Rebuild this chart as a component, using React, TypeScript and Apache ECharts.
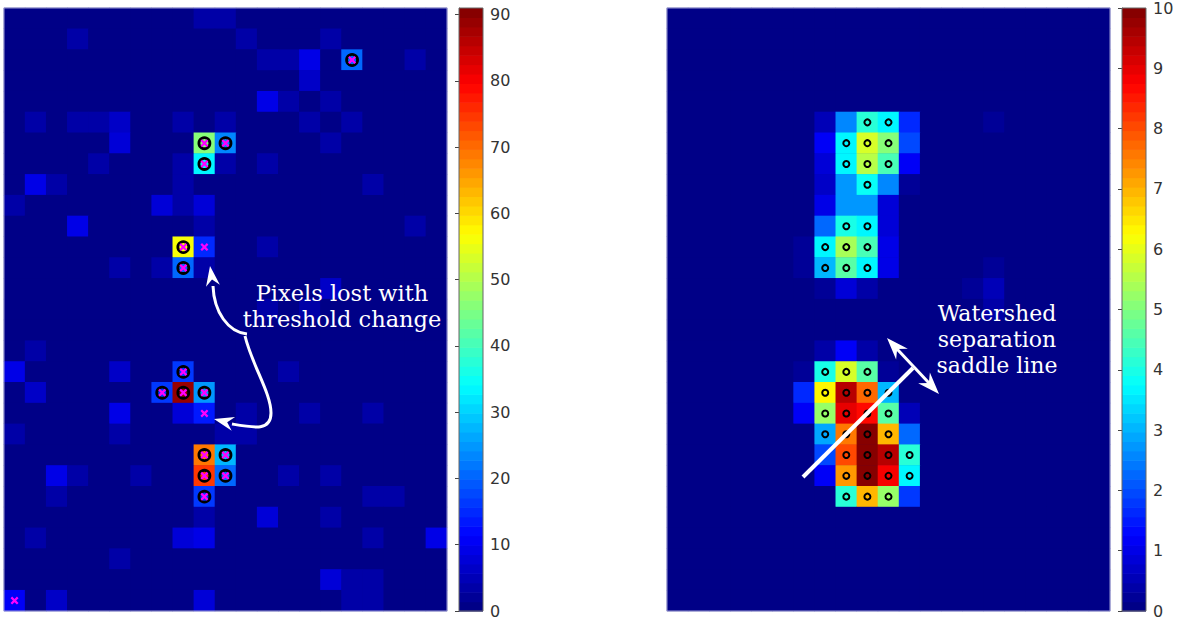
import React, { useEffect, useRef } from "react";
import * as echarts from "echarts";

// ---------- grid size (pixels of the images) ----------
const COLS = 21;
const ROWS = 29;
const colCats = Array.from({ length: COLS }, (_, i) => String(i));
const rowCats = Array.from({ length: ROWS }, (_, i) => String(i));

// ---------- left image: raw intensities [col, row, value]; all others are 0 ----------
const leftCells: [number, number, number][] = [
  [9, 0, 3], [10, 0, 3],
  [3, 1, 3], [11, 1, 3], [15, 1, 3],
  [12, 2, 4], [13, 2, 3], [14, 2, 9], [16, 2, 21], [19, 2, 3],
  [14, 3, 7],
  [12, 4, 9], [13, 4, 3], [14, 4, 1], [15, 4, 4],
  [1, 5, 3], [3, 5, 3], [4, 5, 3], [5, 5, 7], [8, 5, 3], [10, 5, 4], [14, 5, 3], [15, 5, 1], [16, 5, 3],
  [5, 6, 8], [9, 6, 46], [10, 6, 24], [15, 6, 3],
  [4, 7, 3], [8, 7, 3], [9, 7, 34], [10, 7, 4], [12, 7, 3],
  [1, 8, 9], [2, 8, 4], [8, 8, 3], [17, 8, 3],
  [0, 9, 3], [7, 9, 8], [8, 9, 4], [9, 9, 8],
  [3, 10, 9], [9, 10, 4], [19, 10, 3],
  [8, 11, 56], [9, 11, 15], [12, 11, 3],
  [5, 12, 3], [7, 12, 3], [8, 12, 20], [9, 12, 4],
  [15, 13, 6],
  [12, 14, 3], [14, 14, 3],
  [1, 16, 3],
  [0, 17, 9], [5, 17, 6], [8, 17, 16], [13, 17, 3],
  [1, 18, 7], [7, 18, 16], [8, 18, 89], [9, 18, 25],
  [5, 19, 9], [8, 19, 8], [9, 19, 14], [11, 19, 3], [14, 19, 3], [17, 19, 3],
  [0, 20, 3], [5, 20, 3], [10, 20, 3], [11, 20, 3],
  [9, 21, 69], [10, 21, 28],
  [2, 22, 9], [3, 22, 4], [6, 22, 4], [9, 22, 75], [10, 22, 21], [13, 22, 4], [15, 22, 4],
  [2, 23, 4], [9, 23, 16], [17, 23, 4], [18, 23, 4],
  [9, 24, 3], [12, 24, 8], [15, 24, 4],
  [1, 25, 3], [8, 25, 8], [9, 25, 9], [17, 25, 4], [20, 25, 9],
  [5, 26, 4],
  [15, 27, 8], [16, 27, 4], [17, 27, 4],
  [0, 28, 11], [2, 28, 7], [9, 28, 8], [16, 28, 4], [17, 28, 4],
];
// pixels kept after thresholding (circle + cross)
const leftKept: [number, number][] = [
  [16, 2], [9, 6], [10, 6], [9, 7], [8, 11], [8, 12], [8, 17], [7, 18], [8, 18], [9, 18],
  [9, 21], [10, 21], [9, 22], [10, 22], [9, 23],
];
// pixels lost with the threshold change (cross only)
const leftLost: [number, number][] = [[9, 11], [9, 19], [0, 28]];
const leftCrosses: [number, number][] = [...leftKept, ...leftLost];

// ---------- right image: smoothed intensities [col, row, value]; all others are 0 ----------
const rightCells: [number, number, number][] = [
  [7, 5, 0.5], [8, 5, 2.5], [9, 5, 4.2], [10, 5, 3.6], [11, 5, 1.7], [12, 5, 0.1], [15, 5, 0.3],
  [7, 6, 1.2], [8, 6, 3.7], [9, 6, 5.9], [10, 6, 5.0], [11, 6, 2.0],
  [7, 7, 0.9], [8, 7, 3.7], [9, 7, 5.6], [10, 7, 4.4], [11, 7, 1.2],
  [7, 8, 0.7], [8, 8, 2.8], [9, 8, 3.75], [10, 8, 2.5], [11, 8, 0.2],
  [7, 9, 1.0], [8, 9, 2.7], [9, 9, 2.7], [10, 9, 0.8],
  [7, 10, 2.3], [8, 10, 4.0], [9, 10, 3.7], [10, 10, 0.8],
  [6, 11, 0.3], [7, 11, 3.6], [8, 11, 5.4], [9, 11, 4.4], [10, 11, 1.0],
  [6, 12, 0.3], [7, 12, 3.0], [8, 12, 4.6], [9, 12, 3.7], [10, 12, 1.0], [15, 12, 0.3],
  [7, 13, 0.2], [8, 13, 0.9], [9, 13, 0.4], [14, 13, 0.3], [15, 13, 0.6],
  [15, 14, 0.4],
  [7, 16, 0.4], [8, 16, 1.1], [9, 16, 0.4],
  [6, 17, 0.3], [7, 17, 4.0], [8, 17, 5.9], [9, 17, 4.6], [10, 17, 0.3],
  [6, 18, 1.6], [7, 18, 6.4], [8, 18, 9.5], [9, 18, 7.8], [10, 18, 3.0],
  [6, 19, 1.1], [7, 19, 5.3], [8, 19, 9.0], [9, 19, 8.6], [10, 19, 4.6], [11, 19, 0.6],
  [7, 20, 2.9], [8, 20, 7.6], [9, 20, 9.85], [10, 20, 7.0], [11, 20, 2.3],
  [7, 21, 2.0], [8, 21, 8.0], [9, 21, 9.9], [10, 21, 9.4], [11, 21, 4.2],
  [7, 22, 1.1], [8, 22, 7.2], [9, 22, 9.9], [10, 22, 8.9], [11, 22, 3.7],
  [8, 23, 4.2], [9, 23, 6.9], [10, 23, 5.3], [11, 23, 1.8],
];
const rightMarked: [number, number][] = [
  [9, 5], [10, 5], [8, 6], [9, 6], [10, 6], [8, 7], [9, 7], [10, 7], [9, 8],
  [8, 10], [9, 10], [7, 11], [8, 11], [9, 11], [7, 12], [8, 12], [9, 12],
  [7, 17], [8, 17], [9, 17], [7, 18], [8, 18], [9, 18], [10, 18],
  [7, 19], [8, 19], [9, 19], [10, 19], [7, 20], [8, 20], [9, 20], [10, 20],
  [8, 21], [9, 21], [10, 21], [11, 21], [8, 22], [9, 22], [10, 22], [11, 22],
  [8, 23], [9, 23], [10, 23],
];

// ---------- colour bar scales ----------
const leftMax = 91; // colour limit of the left image (ticks stop at 90)
const leftTickStep = 10;
const rightMax = 10;
const rightTickStep = 1;
const LEVELS = 64;

function jet(f: number): string {
  const c = (x: number) => Math.max(0, Math.min(1, x));
  const r = c(1.5 - Math.abs(4 * f - 3));
  const g = c(1.5 - Math.abs(4 * f - 2));
  const b = c(1.5 - Math.abs(4 * f - 1));
  return `rgb(${Math.round(r * 255)},${Math.round(g * 255)},${Math.round(b * 255)})`;
}
const levelColor = (i: number) => jet((i + 0.5) / LEVELS);

function pieces(max: number) {
  return Array.from({ length: LEVELS }, (_, i) => {
    const p: any = { gte: (i * max) / LEVELS, color: levelColor(i) };
    if (i < LEVELS - 1) p.lt = ((i + 1) * max) / LEVELS;
    else p.lte = max * 1.01;
    return p;
  });
}

function fullGrid(cells: [number, number, number][]) {
  const m = new Map<string, number>();
  cells.forEach(([c, r, v]) => m.set(c + "," + r, v));
  const out: [number, number, number][] = [];
  for (let r = 0; r < ROWS; r++)
    for (let c = 0; c < COLS; c++) out.push([c, r, m.get(c + "," + r) ?? 0]);
  return out;
}

const levelIdx = Array.from({ length: LEVELS }, (_, i) => [i]);

function colorbarItem(max: number) {
  return (params: any, api: any) => {
    const i = api.value(0);
    const p0 = api.coord([0, (i * max) / LEVELS]);
    const p1 = api.coord([1, ((i + 1) * max) / LEVELS]);
    return {
      type: "rect",
      shape: { x: p0[0], y: p1[1], width: p1[0] - p0[0], height: p0[1] - p1[1] + 0.6 },
      style: { fill: levelColor(i) },
    };
  };
}

function arrowHead(tip: number[], dir: number[], L: number, W: number) {
  const n = Math.hypot(dir[0], dir[1]);
  const dx = dir[0] / n, dy = dir[1] / n;
  const px = -dy, py = dx;
  const bx = tip[0] - L * dx, by = tip[1] - L * dy;
  return {
    type: "polygon",
    z: 100,
    silent: true,
    shape: {
      points: [
        tip,
        [bx + W * px, by + W * py],
        [tip[0] - 0.68 * L * dx, tip[1] - 0.68 * L * dy],
        [bx - W * px, by - W * py],
      ],
    },
    style: { fill: "#ffffff" },
  };
}

const X_SYMBOL = "path://M2,0L5,3L8,0L10,2L7,5L10,8L8,10L5,7L2,10L0,8L3,5L0,2Z";

export default function App() {
  const ref = useRef<HTMLDivElement>(null);
  useEffect(() => {
    if (!ref.current) return;
    const chart = echarts.init(ref.current, undefined, { renderer: "svg" });
    const labelStyle = { color: "#333", fontSize: 16, fontFamily: "DejaVu Sans" };
    const hiddenCat = (data: string[], gridIndex: number, inverse = false) => ({
      type: "category", data, gridIndex, show: false, inverse,
    });
    const barY = (gridIndex: number, max: number, step: number) => ({
      type: "value", gridIndex, min: 0, max, interval: step, position: "right",
      axisLine: { show: true, lineStyle: { color: "#666", width: 1 } },
      axisTick: { show: true, inside: true, length: 4, lineStyle: { color: "#444" } },
      axisLabel: { ...labelStyle, margin: 7, showMaxLabel: max % step === 0 },
      splitLine: { show: false },
    });
    const barX = (gridIndex: number) => ({ type: "value", gridIndex, min: 0, max: 1, show: false });
    const bg = levelColor(0);

    const rightSaddleStart = [803, 477];
    const rightSaddleEnd = [913, 368];
    const tipA = [887, 338];
    const tipB = [939, 394];

    chart.setOption({
      animation: false,
      backgroundColor: "#ffffff",
      grid: [
        { left: 4, top: 8, width: 443, height: 603, show: true, backgroundColor: bg, borderWidth: 0 },
        { left: 667, top: 8, width: 443, height: 603, show: true, backgroundColor: bg, borderWidth: 0 },
        { left: 459, top: 8, width: 24, height: 603 },
        { left: 1122, top: 8, width: 24, height: 603 },
      ],
      xAxis: [hiddenCat(colCats, 0), hiddenCat(colCats, 1), barX(2), barX(3)],
      yAxis: [
        hiddenCat(rowCats, 0, true),
        hiddenCat(rowCats, 1, true),
        barY(2, leftMax, leftTickStep),
        barY(3, rightMax, rightTickStep),
      ],
      visualMap: [
        { type: "piecewise", show: false, seriesIndex: 0, dimension: 2, pieces: pieces(leftMax) },
        { type: "piecewise", show: false, seriesIndex: 1, dimension: 2, pieces: pieces(rightMax) },
      ],
      series: [
        { type: "heatmap", xAxisIndex: 0, yAxisIndex: 0, data: fullGrid(leftCells), silent: true, emphasis: { disabled: true } },
        { type: "heatmap", xAxisIndex: 1, yAxisIndex: 1, data: fullGrid(rightCells), silent: true, emphasis: { disabled: true } },
        { type: "custom", xAxisIndex: 2, yAxisIndex: 2, data: levelIdx, renderItem: colorbarItem(leftMax), silent: true, z: 1 },
        { type: "custom", xAxisIndex: 3, yAxisIndex: 3, data: levelIdx, renderItem: colorbarItem(rightMax), silent: true, z: 1 },
        {
          type: "scatter", xAxisIndex: 0, yAxisIndex: 0, data: leftKept, symbol: "circle", symbolSize: 11,
          itemStyle: { color: "rgba(0,0,0,0)", borderColor: "#000", borderWidth: 2.8, opacity: 1 }, silent: true, z: 5,
        },
        {
          type: "scatter", xAxisIndex: 0, yAxisIndex: 0, data: leftCrosses, symbol: X_SYMBOL, symbolSize: 8,
          itemStyle: { color: "#ff00ff", opacity: 1 }, silent: true, z: 6,
        },
        {
          type: "scatter", xAxisIndex: 1, yAxisIndex: 1, data: rightMarked, symbol: "circle", symbolSize: 6,
          itemStyle: { color: "rgba(0,0,0,0)", borderColor: "#000", borderWidth: 2, opacity: 1 }, silent: true, z: 5,
        },
      ],
      graphic: [
        // frames
        { type: "rect", z: 90, silent: true, shape: { x: 4, y: 8, width: 443, height: 603 }, style: { fill: "none", stroke: "#9a9ad0", lineWidth: 1 } },
        { type: "rect", z: 90, silent: true, shape: { x: 667, y: 8, width: 443, height: 603 }, style: { fill: "none", stroke: "#9a9ad0", lineWidth: 1 } },
        { type: "rect", z: 90, silent: true, shape: { x: 459, y: 8, width: 24, height: 603 }, style: { fill: "none", stroke: "#666", lineWidth: 1 } },
        { type: "rect", z: 90, silent: true, shape: { x: 1122, y: 8, width: 24, height: 603 }, style: { fill: "none", stroke: "#666", lineWidth: 1 } },
        // left annotation
        {
          type: "text", z: 100, silent: true, x: 342, y: 306,
          style: {
            text: "Pixels lost with\nthreshold change", fill: "#ffffff",
            font: '22.5px "DejaVu Serif"', align: "center", verticalAlign: "middle", lineHeight: 26,
          },
        },
        {
          type: "bezierCurve", z: 100, silent: true,
          shape: { x1: 247, y1: 334, cpx1: 228, cpy1: 332, cpx2: 214, cpy2: 312, x2: 213, y2: 286 },
          style: { stroke: "#fff", lineWidth: 3, fill: "none" },
        },
        {
          type: "bezierCurve", z: 100, silent: true,
          shape: { x1: 245, y1: 336, cpx1: 252, cpy1: 365, cpx2: 271, cpy2: 393, x2: 271, y2: 413 },
          style: { stroke: "#fff", lineWidth: 3, fill: "none" },
        },
        {
          type: "bezierCurve", z: 100, silent: true,
          shape: { x1: 271, y1: 413, cpx1: 271, cpy1: 431, cpx2: 255, cpy2: 428, x2: 232, y2: 424 },
          style: { stroke: "#fff", lineWidth: 3, fill: "none" },
        },
        arrowHead([210, 266], [-0.15, -1], 20, 7),
        arrowHead([214, 419], [-1, -0.25], 20, 7),
        // right annotation
        {
          type: "text", z: 100, silent: true, x: 997, y: 339,
          style: {
            text: "Watershed\nseparation\nsaddle line", fill: "#ffffff",
            font: '22px "DejaVu Serif"', align: "center", verticalAlign: "middle", lineHeight: 26,
          },
        },
        {
          type: "line", z: 100, silent: true,
          shape: { x1: rightSaddleStart[0], y1: rightSaddleStart[1], x2: rightSaddleEnd[0], y2: rightSaddleEnd[1] },
          style: { stroke: "#fff", lineWidth: 4 },
        },
        {
          type: "line", z: 100, silent: true,
          shape: { x1: 897, y1: 349, x2: 929, y2: 383 },
          style: { stroke: "#fff", lineWidth: 3 },
        },
        arrowHead(tipA, [tipA[0] - tipB[0], tipA[1] - tipB[1]], 22, 8),
        arrowHead(tipB, [tipB[0] - tipA[0], tipB[1] - tipA[1]], 22, 8),
      ],
    } as any);
    return () => chart.dispose();
  }, []);
  return (
    <div
      ref={ref}
      style={{ position: "fixed", left: 0, top: 0, width: 1188, height: 623, background: "#fff" }}
    />
  );
}
